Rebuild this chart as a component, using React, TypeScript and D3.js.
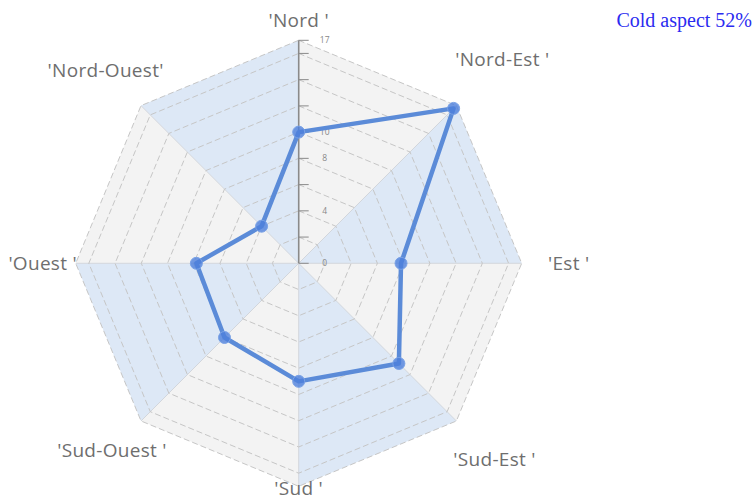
import React from "react";
import * as d3 from "d3";

// directions of the rose, clockwise from north
const directions = ["'Nord '", "'Nord-Est '", "'Est '", "'Sud-Est '", "'Sud '", "'Sud-Ouest '", "'Ouest '", "'Nord-Ouest'"];
const counts = [10, 16.7, 7.8, 10.8, 9, 8, 7.8, 4];
const tickLabels = [0, 4, 8, 10, 17];
const maxValue = 17;
const title = "Cold aspect 52%";

const W = 756;
const H = 500;
const cx = 298.7;
const cy = 263.3;
const R = 223;

// how far out each direction label sits (layout only)
const labelR = [243, 288, 270, 277, 225, 264, 256, 273];

const App = () => {
  const r = d3.scaleLinear().domain([0, maxValue]).range([0, R]);
  const step = (2 * Math.PI) / directions.length;
  const ang = (i: number) => i * step;
  const pt = (i: number, v: number): [number, number] => [
    cx + r(v) * Math.sin(ang(i)),
    cy - r(v) * Math.cos(ang(i)),
  ];

  const rings = d3.range(2, maxValue, 2).concat([maxValue]);
  const ticks = d3.range(0, maxValue, 2).concat([maxValue]);

  const ringPath = (v: number) =>
    "M" + directions.map((_, i) => pt(i, v).join(",")).join("L") + "Z";

  const seriesLine = d3
    .lineRadial<number>()
    .angle((_, i) => ang(i))
    .radius((d) => r(d))
    .curve(d3.curveLinearClosed);

  return (
    <svg width={W} height={H} style={{ position: "absolute", left: 0, top: 0, background: "#fff" }}>
      {/* alternating sector bands */}
      {directions.map((_, i) => {
        const a = pt(i, maxValue);
        const b = pt((i + 1) % directions.length, maxValue);
        return (
          <path
            key={"band" + i}
            d={`M${cx},${cy}L${a.join(",")}L${b.join(",")}Z`}
            fill={i % 2 === 1 ? "#dde8f6" : "#f3f3f3"}
          />
        );
      })}
      {/* spokes */}
      {directions.map((_, i) => {
        const p = pt(i, maxValue);
        return <line key={"sp" + i} x1={cx} y1={cy} x2={p[0]} y2={p[1]} stroke="#d2d6dc" strokeWidth={1} />;
      })}
      {/* dashed rings */}
      {rings.map((v) => (
        <path key={"ring" + v} d={ringPath(v)} fill="none" stroke="#c6c6c6" strokeWidth={1} strokeDasharray="6,3" />
      ))}
      {/* radial axis on north */}
      <line x1={cx} y1={cy} x2={cx} y2={cy - r(maxValue)} stroke="#8a8a8a" strokeWidth={1.6} />
      {ticks.map((t) => (
        <line key={"tk" + t} x1={cx} x2={cx + 10} y1={cy - r(t)} y2={cy - r(t)} stroke="#8a8a8a" strokeWidth={1} />
      ))}
      {tickLabels.map((t) => (
        <text
          key={"tl" + t}
          x={cx + 26}
          y={cy - r(t)}
          dy="0.35em"
          textAnchor="middle"
          fontFamily="Open Sans, sans-serif"
          fontSize={8.5}
          fill="#888"
        >
          {t}
        </text>
      ))}
      {/* series */}
      <path
        d={seriesLine(counts) || ""}
        transform={`translate(${cx},${cy})`}
        fill="none"
        stroke="#5b8bd8"
        strokeWidth={4.5}
        strokeLinejoin="round"
      />
      {counts.map((v, i) => {
        const p = pt(i, v);
        return (
          <circle
            key={"pt" + i}
            cx={p[0]}
            cy={p[1]}
            r={6}
            fill="#4d80dc"
            fillOpacity={0.8}
            stroke="#7aa2e6"
            strokeWidth={1}
          />
        );
      })}
      {/* direction labels */}
      {directions.map((d, i) => {
        const a = ang(i);
        return (
          <text
            key={"lb" + i}
            x={cx + labelR[i] * Math.sin(a)}
            y={cy - labelR[i] * Math.cos(a)}
            dy="0.35em"
            textAnchor="middle"
            fontFamily="Open Sans, sans-serif"
            fontSize={19}
            letterSpacing={0.3}
            fill="#6e6e6e"
          >
            {d}
          </text>
        );
      })}
      <text x={752} y={27} textAnchor="end" fontFamily="Liberation Serif, serif" fontSize={20} fill="#2b2bf0">
        {title}
      </text>
    </svg>
  );
};

export default App;
